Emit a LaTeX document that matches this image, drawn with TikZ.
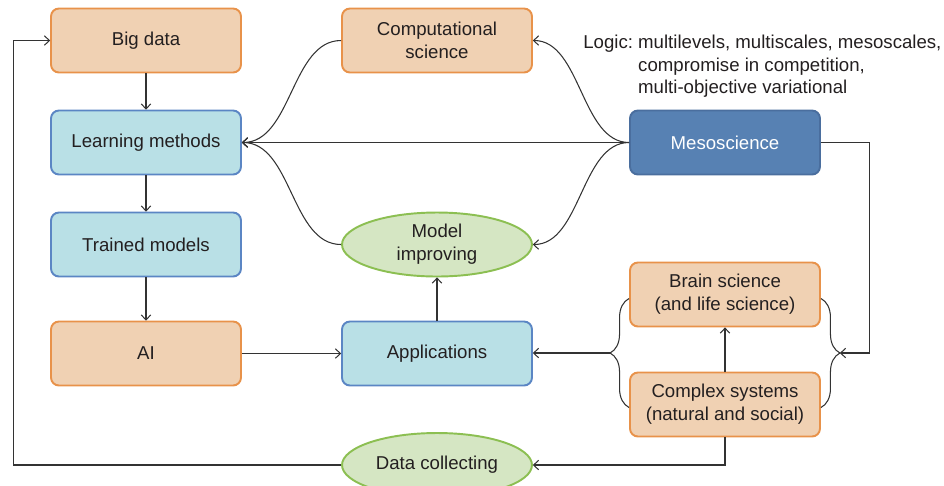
\documentclass[tikz,border=0pt]{standalone}
\usepackage{fontspec}
\setmainfont{Liberation Sans}
\usepackage{tikz}
\usetikzlibrary{calc}
\usetikzlibrary{arrows.meta,shapes.geometric,decorations.pathreplacing}

\definecolor{orfill}{HTML}{F0D1B3}
\definecolor{orline}{HTML}{E8924A}
\definecolor{blfill}{HTML}{B9E0E6}
\definecolor{blline}{HTML}{5B86C4}
\definecolor{grfill}{HTML}{D5E6C3}
\definecolor{grline}{HTML}{8CBF52}
\definecolor{mesofill}{HTML}{5781B3}
\definecolor{mesoline}{HTML}{4A6E9E}
\definecolor{txt}{HTML}{231F20}
\definecolor{wire}{HTML}{333333}

\begin{document}
\begin{tikzpicture}[x=0.02cm, y=-0.02cm, font=\fontsize{10.6}{13}\selectfont, text=txt,
	orangebox/.style={rectangle, rounded corners=4.5pt, draw=orline, fill=orfill, line width=1.1pt, minimum width=3.8cm, minimum height=1.28cm, align=center},
	bluebox/.style={orangebox, draw=blline, fill=blfill},
	mesobox/.style={orangebox, draw=mesoline, fill=mesofill, text=white},
	greenoval/.style={ellipse, draw=grline, fill=grfill, line width=1.1pt, minimum width=3.8cm, minimum height=1.28cm, inner sep=0pt, align=center},
	link/.style={draw=wire, line width=0.6pt, -{Straight Barb[length=2.8pt, width=5.5pt]}},
	plain/.style={draw=wire, line width=0.6pt},
	bracket/.style={draw=wire, line width=0.6pt, decorate, decoration={brace, amplitude=0.38cm}}]
			\clip (0,0) rectangle (944,485);

			% left column
			\node[orangebox] (big) at (146,40.5) {Big data};
			\node[bluebox] (learn) at (146,142.5) {Learning methods};
			\node[bluebox] (trained) at (146,244.5) {Trained models};
			\node[orangebox] (ai) at (146,353.5) {AI};

			% middle column
			\node[orangebox] (comp) at (437,40.5) {Computational\\science};
			\node[greenoval] (model) at (437,244.5) {Model\\improving};
			\node[bluebox] (app) at (437,353.5) {Applications};
			\node[greenoval] (data) at (437,465) {Data collecting};

			% right column
			\node[mesobox] (meso) at (725,142.5) {Mesoscience};
			\node[orangebox] (brain) at (725,294.5) {Brain science\\(and life science)};
			\node[orangebox] (complex) at (725,404.5) {Complex systems\\(natural and social)};

			\node[anchor=west, inner sep=0pt] (logic) at (583,66.5) {\begin{tabular}{@{}l@{\ }l@{}}Logic: & multilevels, multiscales, mesoscales,\\ & compromise in competition,\\ & multi-objective variational\end{tabular}};

			% brace ends and tips
			\coordinate (bw) at ($(brain.west)+(0,4)$);
			\coordinate (cw) at ($(complex.west)+(0,3)$);
			\coordinate (be) at ($(brain.east)+(0,4)$);
			\coordinate (ce) at ($(complex.east)+(0,3)$);
			\coordinate (lbrace) at ($(bw)!0.5!(cw)+(-19,0)$);
			\coordinate (rbrace) at ($(be)!0.5!(ce)+(19,0)$);

			\draw[link] (big) -- (learn);
			\draw[link] (learn) -- (trained);
			\draw[link] (trained) -- (ai);
			\draw[link] (ai) -- (app);
			\draw[link] (app) -- (model);
			\draw[link] (complex) -- (brain);

			\draw[link] (meso.west) -- (learn.east);
			\draw[link] (meso.west) .. controls +(-48,0) and +(48,0) .. (comp.east);
			\draw[link] (meso.west) .. controls +(-48,0) and +(48,0) .. (model.east);
			\draw[link] (comp.west) .. controls +(-50,0) and +(50,0) .. (learn.east);
			\draw[link] (model.west) .. controls +(-50,0) and +(50,0) .. (learn.east);

			\draw[bracket] (cw) -- (bw);
			\draw[bracket] (be) -- (ce);
			\draw[link] (lbrace) -- (lbrace -| app.east);
			\draw[link] (meso.east) -- ++(49,0) |- (rbrace);

			\draw[link] (complex.south) |- (data.east);
			\draw[link] (data.west) -- ++(-328,0) |- (big.west);

		\end{tikzpicture}
\end{document}
